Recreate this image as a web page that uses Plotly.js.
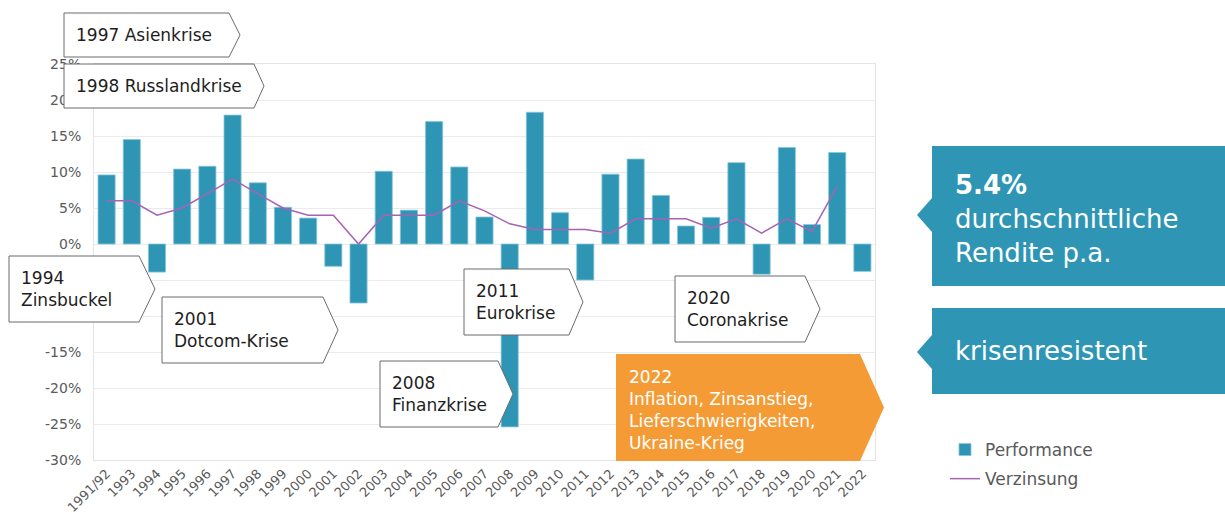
<!DOCTYPE html>
<html>
<head>
<meta charset="utf-8">
<script src="https://cdn.plot.ly/plotly-3.0.1.min.js"></script>
<style>html,body{margin:0;padding:0;background:#fff;}#chart{width:1225px;height:512px;}</style>
</head>
<body>
<div id="chart"></div>
<script>
// ---- data ----
const categories = ['1991/92','1993','1994','1995','1996','1997','1998','1999','2000','2001','2002','2003','2004','2005','2006','2007','2008','2009','2010','2011','2012','2013','2014','2015','2016','2017','2018','2019','2020','2021','2022'];
const performance = [9.6,14.5,-3.9,10.4,10.8,17.9,8.5,5.1,3.6,-3.1,-8.2,10.1,4.7,17.0,10.7,3.75,-25.4,18.3,4.35,-5.0,9.7,11.8,6.75,2.5,3.7,11.3,-4.2,13.4,2.7,12.7,-3.8];
const verzinsung = [6,6,4,5,7,9,7,5,4,4,0,4,4,4,6,4.6,2.8,2,2,2,1.5,3.5,3.5,3.5,2.2,3.5,1.5,3.5,1.75,8,null];
const yTickVals = [-30,-25,-20,-15,-10,-5,0,5,10,15,20,25];
const seriesNames = ['Performance','Verzinsung'];
const crisisTexts = ['1997 Asienkrise','1998 Russlandkrise','1994<br>Zinsbuckel','2001<br>Dotcom-Krise','2008<br>Finanzkrise','2011<br>Eurokrise','2020<br>Coronakrise'];
const highlightText = '2022<br>Inflation, Zinsanstieg,<br>Lieferschwierigkeiten,<br>Ukraine-Krieg';
const infoTexts = ['<b>5.4%</b><br>durchschnittliche<br>Rendite p.a.','krisenresistent'];

// ---- layout helpers (pixel -> paper) ----
const M = {l:94, r:350, t:64, b:52};
const PW = 1225 - M.l - M.r, PH = 512 - M.t - M.b;
const X = px => (px - M.l) / PW;
const Y = py => (512 - M.b - py) / PH;

const TEAL = '#2e96b4', ORANGE = '#f59b35', PURPLE = '#a663b4';
const FONT = 'DejaVu Sans, Verdana, sans-serif';

function arrowPath(l,t,b,r,tip){
  const m=(t+b)/2;
  return `M ${X(l)},${Y(t)} L ${X(r)},${Y(t)} L ${X(tip)},${Y(m)} L ${X(r)},${Y(b)} L ${X(l)},${Y(b)} Z`;
}
function notchPath(l,t,b,r,tipx,ny){
  return `M ${X(l)},${Y(t)} L ${X(r)},${Y(t)} L ${X(r)},${Y(b)} L ${X(l)},${Y(b)} L ${X(l)},${Y(ny+17)} L ${X(tipx)},${Y(ny)} L ${X(l)},${Y(ny-17)} Z`;
}

const boxGeo = [
  {l:64,t:13,b:57,r:229,tip:240},
  {l:64,t:64,b:108,r:254,tip:264},
  {l:9,t:256,b:322,r:139,tip:155},
  {l:162,t:297,b:363,r:323,tip:338},
  {l:380,t:361,b:427,r:498,tip:513},
  {l:464,t:269,b:335,r:569,tip:583},
  {l:675,t:276,b:342,r:805,tip:820}
];

const shapes = [];
const annotations = [];
boxGeo.forEach((g,i)=>{
  shapes.push({type:'path', xref:'paper', yref:'paper', layer:'above', path:arrowPath(g.l,g.t,g.b,g.r,g.tip),
    fillcolor:'#ffffff', line:{color:'#6b6b6b', width:1}});
  annotations.push({xref:'paper', yref:'paper', x:X(g.l+10), y:Y((g.t+g.b)/2), xanchor:'left', yanchor:'middle',
    align:'left', showarrow:false, text:crisisTexts[i], font:{family:FONT, size:17, color:'#1e1e1e'}});
});
// orange highlight
shapes.push({type:'path', xref:'paper', yref:'paper', layer:'above', path:arrowPath(616,354,461,860,884),
  fillcolor:ORANGE, line:{width:0}});
annotations.push({xref:'paper', yref:'paper', x:X(627), y:Y(410), xanchor:'left', yanchor:'middle', align:'left',
  showarrow:false, text:highlightText, font:{family:FONT, size:17, color:'#ffffff'}});
// teal info boxes
shapes.push({type:'path', xref:'paper', yref:'paper', layer:'above', path:notchPath(932,146,286,1225,917,215),
  fillcolor:TEAL, line:{width:0}});
shapes.push({type:'path', xref:'paper', yref:'paper', layer:'above', path:notchPath(932,308,394,1225,917,352),
  fillcolor:TEAL, line:{width:0}});
annotations.push({xref:'paper', yref:'paper', x:X(953), y:Y(219), xanchor:'left', yanchor:'middle', align:'left',
  showarrow:false, text:infoTexts[0], font:{family:FONT, size:26, color:'#ffffff'}});
annotations.push({xref:'paper', yref:'paper', x:X(953), y:Y(351), xanchor:'left', yanchor:'middle', align:'left',
  showarrow:false, text:infoTexts[1], font:{family:FONT, size:26, color:'#ffffff'}});

const traces = [
  {type:'bar', x:categories, y:performance, name:seriesNames[0], legendgroup:'a',
   marker:{color:TEAL, line:{color:'#86c6d9', width:0.8}}, hoverinfo:'x+y'},
  {type:'scatter', mode:'lines', x:categories, y:verzinsung, name:seriesNames[1], legendgroup:'b',
   line:{color:PURPLE, width:1.5}, connectgaps:false}
];

const layout = {
  width:1225, height:512,
  margin:M,
  paper_bgcolor:'#ffffff', plot_bgcolor:'#ffffff',
  font:{family:FONT, color:'#595959'},
  bargap:0.32,
  showlegend:true,
  legend:{x:X(945), y:Y(432), xanchor:'left', yanchor:'top', traceorder:'grouped', tracegroupgap:4,
    font:{family:FONT, size:17, color:'#595959'}, bgcolor:'rgba(0,0,0,0)', itemwidth:30},
  xaxis:{type:'category', tickangle:-45, tickfont:{size:13, color:'#595959'}, showgrid:false,
    showline:true, mirror:true, linecolor:'#e4e4e4', linewidth:1, ticks:'', automargin:false,
    range:[-0.5, categories.length-0.5]},
  yaxis:{range:[-30,25], tickvals:yTickVals, ticktext:yTickVals.map(v=>v+'%'), tickfont:{size:14, color:'#595959'},
    showgrid:true, gridcolor:'#ebebeb', zeroline:false, showline:true, mirror:true, linecolor:'#e4e4e4', linewidth:1,
    ticks:'', automargin:false, ticklabelstandoff:9},
  shapes:shapes,
  annotations:annotations
};

Plotly.newPlot('chart', traces, layout, {displayModeBar:false, staticPlot:true});
</script>
</body>
</html>
